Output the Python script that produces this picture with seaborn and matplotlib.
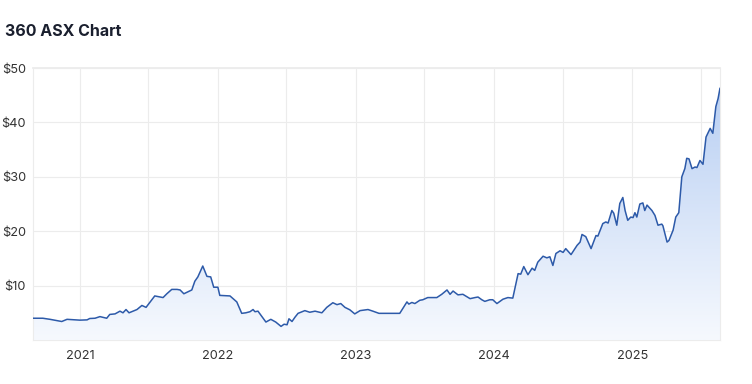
import pandas as pd
import numpy as np
import matplotlib
matplotlib.use("Agg")
import matplotlib.pyplot as plt
import matplotlib.dates as mdates
from matplotlib.colors import LinearSegmentedColormap
import seaborn as sns

# closing price
dates = [
    "2020-08-30", "2020-09-25", "2020-10-14", "2020-11-14", "2020-11-28", "2021-01-01",
    "2021-01-20", "2021-01-27", "2021-02-10", "2021-02-23", "2021-03-13", "2021-03-21",
    "2021-04-04", "2021-04-17", "2021-04-25", "2021-05-03", "2021-05-11", "2021-06-01",
    "2021-06-14", "2021-06-25", "2021-07-18", "2021-08-01", "2021-08-09", "2021-08-19",
    "2021-09-01", "2021-09-15", "2021-09-23", "2021-10-03", "2021-10-24", "2021-11-01",
    "2021-11-09", "2021-11-22", "2021-12-03", "2021-12-13", "2021-12-21", "2022-01-01",
    "2022-01-06", "2022-02-02", "2022-02-20", "2022-03-05", "2022-03-16", "2022-03-27",
    "2022-04-04", "2022-04-09", "2022-04-17", "2022-05-08", "2022-05-21", "2022-06-03",
    "2022-06-17", "2022-06-25", "2022-07-03", "2022-07-08", "2022-07-16", "2022-07-24",
    "2022-08-01", "2022-08-19", "2022-09-01", "2022-09-15", "2022-10-03", "2022-10-16",
    "2022-11-01", "2022-11-12", "2022-11-22", "2022-12-03", "2022-12-16", "2022-12-29",
    "2023-01-12", "2023-02-02", "2023-02-15", "2023-03-03", "2023-04-01", "2023-04-27",
    "2023-05-05", "2023-05-16", "2023-05-21", "2023-05-29", "2023-06-06", "2023-06-19",
    "2023-06-27", "2023-07-10", "2023-08-03", "2023-08-16", "2023-08-30", "2023-09-07",
    "2023-09-15", "2023-09-28", "2023-10-11", "2023-10-30", "2023-11-12", "2023-11-20",
    "2023-11-30", "2023-12-08", "2023-12-21", "2023-12-29", "2024-01-09", "2024-01-25",
    "2024-02-07", "2024-02-20", "2024-03-05", "2024-03-12", "2024-03-20", "2024-03-31",
    "2024-04-11", "2024-04-18", "2024-04-26", "2024-05-10", "2024-05-20", "2024-05-28",
    "2024-06-05", "2024-06-13", "2024-06-24", "2024-07-02", "2024-07-09", "2024-07-23",
    "2024-08-08", "2024-08-16", "2024-08-21", "2024-08-31", "2024-09-14", "2024-09-27",
    "2024-10-02", "2024-10-15", "2024-10-23", "2024-10-29", "2024-11-08", "2024-11-13",
    "2024-11-21", "2024-11-29", "2024-12-07", "2024-12-13", "2024-12-20", "2024-12-28",
    "2025-01-03", "2025-01-08", "2025-01-13", "2025-01-21", "2025-01-29", "2025-02-03",
    "2025-02-09", "2025-02-22", "2025-03-02", "2025-03-10", "2025-03-20", "2025-03-23",
    "2025-04-03", "2025-04-08", "2025-04-19", "2025-04-26", "2025-05-04", "2025-05-12",
    "2025-05-20", "2025-05-25", "2025-05-31", "2025-06-08", "2025-06-16", "2025-06-21",
    "2025-06-29", "2025-07-07", "2025-07-15", "2025-07-26", "2025-08-02", "2025-08-10",
    "2025-08-16", "2025-08-21",
]
prices = [
    4.0, 4.0, 3.8, 3.4, 3.8, 3.65,
    3.7, 3.95, 4.0, 4.3, 4.0, 4.7,
    4.8, 5.3, 5.0, 5.6, 5.0, 5.6,
    6.35, 6.0, 8.1, 7.9, 7.8, 8.5,
    9.3, 9.3, 9.2, 8.5, 9.2, 10.8,
    11.6, 13.6, 11.7, 11.6, 9.7, 9.7,
    8.2, 8.1, 7.0, 4.9, 5.0, 5.2,
    5.6, 5.2, 5.3, 3.3, 3.8, 3.3,
    2.5, 2.9, 2.8, 3.9, 3.4, 4.2,
    4.9, 5.4, 5.1, 5.3, 5.0, 6.0,
    6.85, 6.5, 6.7, 6.0, 5.55, 4.8,
    5.4, 5.6, 5.3, 4.9, 4.9, 4.9,
    5.8, 7.0, 6.6, 6.9, 6.7, 7.3,
    7.4, 7.8, 7.8, 8.4, 9.2, 8.4,
    9.0, 8.3, 8.4, 7.6, 7.8, 7.9,
    7.4, 7.1, 7.4, 7.4, 6.7, 7.5,
    7.8, 7.7, 12.2, 12.1, 13.5, 12.0,
    13.2, 12.8, 14.3, 15.4, 15.1, 15.3,
    13.7, 15.9, 16.4, 16.1, 16.8, 15.7,
    17.4, 18.0, 19.4, 19.0, 16.8, 19.2,
    19.1, 21.4, 21.7, 21.5, 23.8, 23.3,
    21.1, 25.1, 26.2, 23.8, 22.0, 22.6,
    22.5, 23.4, 22.6, 25.0, 25.2, 23.8,
    24.8, 23.8, 22.9, 21.1, 21.3, 21.0,
    18.0, 18.3, 20.2, 22.6, 23.4, 30.0,
    31.5, 33.4, 33.3, 31.5, 31.8, 31.7,
    33.0, 32.3, 37.3, 38.9, 38.0, 42.9,
    44.4, 46.3,
]
y_ticks = [10, 20, 30, 40, 50]
year_ticks = ["2021-01-01", "2022-01-01", "2023-01-01", "2024-01-01", "2025-01-01"]
year_labels = ["2021", "2022", "2023", "2024", "2025"]

df = pd.DataFrame({"date": pd.to_datetime(dates), "price": prices})

sns.set_theme(style="whitegrid")
plt.rcParams["font.family"] = ["Inter", "DejaVu Sans"]

fig = plt.figure(figsize=(7.52, 3.84), dpi=100)
ax = fig.add_axes([33 / 752, 1 - 340 / 384, 687 / 752, 272 / 384])

sns.lineplot(data=df, x="date", y="price", ax=ax, color="#2d5aa9", linewidth=1.1, zorder=3)

x0, x1 = df["date"].min(), df["date"].max()

# gradient fill under the line
fill = ax.fill_between(df["date"], df["price"], 0, color="none", lw=0)
cmap = LinearSegmentedColormap.from_list("fade", ["#f6f9fe", "#b4ccf2"])
grad = np.linspace(0, 1, 256).reshape(-1, 1)
img = ax.imshow(grad, cmap=cmap, aspect="auto", origin="lower",
                extent=[mdates.date2num(x0), mdates.date2num(x1), 0, 50], zorder=2)
img.set_clip_path(fill.get_paths()[0], transform=ax.transData)
ax.set_xlim(x0, x1)
ax.set_ylim(0, 50)

ax.set_yticks(y_ticks)
ax.set_yticklabels([f"${v}" for v in y_ticks])
ax.set_xticks(pd.to_datetime(year_ticks))
ax.set_xticklabels(year_labels)
ax.xaxis.set_minor_locator(mdates.MonthLocator(bymonth=7))
ax.grid(True, which="both", color="#ececec", linewidth=0.8)
ax.tick_params(axis="both", which="both", length=0, colors="#333333", labelsize=9.2)
ax.tick_params(axis="x", pad=7)
ax.tick_params(axis="y", pad=5)
for s in ax.spines.values():
    s.set_color("#ececec")
    s.set_linewidth(0.8)
ax.spines["top"].set_linewidth(1.3)
ax.set_xlabel("")
ax.set_ylabel("")

fig.text(5 / 752, 1 - 31 / 384, "360 ASX Chart", fontsize=11.5, fontweight="bold",
         color="#1a1f2e", va="center", ha="left")

fig.savefig("out.png", dpi=100)
